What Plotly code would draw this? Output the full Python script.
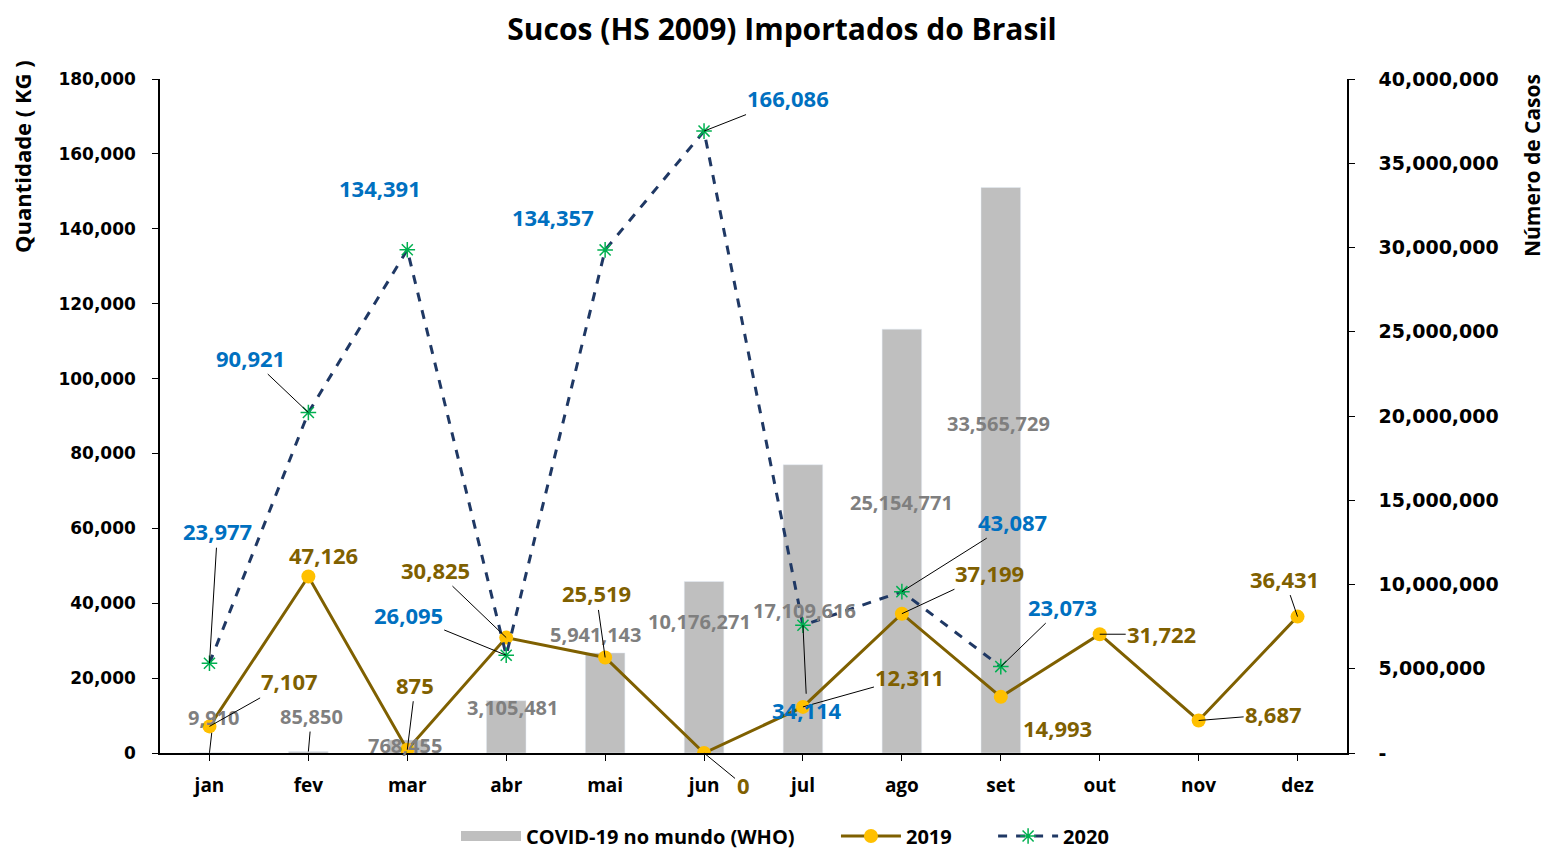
import plotly.graph_objects as go

months = ["jan", "fev", "mar", "abr", "mai", "jun", "jul", "ago", "set", "out", "nov", "dez"]
covid = [9910, 85850, 768455, 3105481, 5941143, 10176271, 17109616, 25154771, 33565729]
v2019 = [7107, 47126, 875, 30825, 25519, 0, 12311, 37199, 14993, 31722, 8687, 36431]
v2020 = [23977, 90921, 134391, 26095, 134357, 166086, 34114, 43087, 23073]

left_ticks = [0, 20000, 40000, 60000, 80000, 100000, 120000, 140000, 160000, 180000]
right_ticks = [0, 5000000, 10000000, 15000000, 20000000, 25000000, 30000000, 35000000, 40000000]

# label offsets (pixels, label centre relative to point) and whether a leader line is shown
off2020 = [(8, -132, 1), (-58, -55, 1), (-27, -62, 0), (-98, -40, 1), (-52, -33, 0),
           (84, -33, 1), (4, 85, 1), (111, -70, 1), (62, -60, 1)]
off2019 = [(80, -45, 1), (15, -22, 0), (8, -65, 1), (-71, -68, 1), (-9, -64, 1), (39, 32, 1),
           (107, -30, 1), (88, -41, 1), (57, 31, 0), (62, 0, 1), (75, -6, 1), (-13, -38, 1)]
offcov = [(4, -35, 1), (3, -35, 1), (-2, 5, 0), (6, 7, 0), (-10, -18, 0), (-5, 40, 0),
          (2, 146, 0), (0, 173, 0), (-2, 236, 0)]

C2019 = "#7F6000"
C2020 = "#0070C0"
CCOV = "#7F7F7F"
CBAR = "#BFBFBF"
LBL = "Open Sans"
TICK = "DejaVu Sans"
GAP = "\u00a0" * 7

fig = go.Figure()
fig.add_trace(go.Bar(x=months[:len(covid)], y=covid, name="COVID-19 no mundo (WHO)",
                     marker=dict(color=CBAR), width=0.4, yaxis="y", showlegend=False))
# legend proxy giving the wide grey rectangle used for the bar series
fig.add_trace(go.Scatter(x=[None], y=[None], name="<b>COVID-19 no mundo (WHO)</b>" + GAP, mode="lines",
                         line=dict(color=CBAR, width=16), yaxis="y"))
fig.add_trace(go.Scatter(x=months, y=v2019, name="<b>2019</b>" + GAP, mode="lines+markers", yaxis="y2",
                         line=dict(color=C2019, width=3),
                         marker=dict(color="#FFC000", size=14, symbol="circle")))
fig.add_trace(go.Scatter(x=months[:len(v2020)], y=v2020, name="<b>2020</b>", mode="lines+markers",
                         yaxis="y2", line=dict(color="#1F3864", width=3, dash="dash"),
                         marker=dict(color="#00B050", size=13, symbol="asterisk-open",
                                     line=dict(color="#00B050", width=1.5))))

ann = []


def add_labels(xs, ys, offs, color, yref, size):
    for x, y, (ax, ay, lead) in zip(xs, ys, offs):
        ann.append(dict(x=x, y=y, xref="x", yref=yref, text=f"<b>{y:,}</b>",
                        showarrow=True, ax=ax, ay=ay, arrowhead=0, standoff=0,
                        arrowwidth=1 if lead else 0.1,
                        arrowcolor="black" if lead else "rgba(0,0,0,0)",
                        font=dict(family=LBL, size=size, color=color)))


add_labels(months, covid, offcov, CCOV, "y", 20)
add_labels(months, v2019, off2019, C2019, "y2", 22)
add_labels(months, v2020, off2020, C2020, "y2", 22)

# page has an 8px body margin; figure is sized/offset to compensate
W, H, OFF = 1542, 841, 8
PW = 1187
ann.append(dict(text="<b>Quantidade ( KG )</b>", xref="paper", yref="paper",
                x=(22 - 160) / PW, y=(753 - 157) / 674, xanchor="center", yanchor="middle",
                textangle=-90, showarrow=False, font=dict(family=LBL, size=22, color="black")))
ann.append(dict(text="<b>Número de Casos</b>", xref="paper", yref="paper",
                x=(1532 - 160) / PW, y=(753 - 166) / 674, xanchor="center", yanchor="middle",
                textangle=-90, showarrow=False, font=dict(family=LBL, size=21, color="black")))

fig.update_layout(
    width=W, height=H,
    margin=dict(l=160 - OFF, r=203, t=79 - OFF, b=96, autoexpand=False),
    paper_bgcolor="white", plot_bgcolor="white",
    title=dict(text="<b>Sucos (HS 2009) Importados do Brasil</b>", x=(782 - OFF) / W, xanchor="center",
               y=1 - (29 - OFF) / H, yanchor="middle", font=dict(family=LBL, size=30, color="black")),
    xaxis=dict(type="category", categoryorder="array", categoryarray=months, range=[-0.5, 11.5],
               showline=True, linecolor="black", linewidth=1.5, ticks="outside", ticklen=6,
               tickcolor="black", showgrid=False, ticklabelstandoff=8,
               tickfont=dict(family=LBL, size=19, color="black"), tickprefix="<b>", ticksuffix="</b>"),
    yaxis=dict(side="right", range=[0, 40000000], tickvals=right_ticks,
               ticktext=["<b>-</b>"] + [f"<b>{v:,}</b>" for v in right_ticks[1:]],
               showline=True, linecolor="black", linewidth=1.5, ticks="outside", ticklen=6,
               tickcolor="black", showgrid=False, zeroline=False, ticklabelstandoff=20,
               tickfont=dict(family=TICK, size=19, color="black")),
    yaxis2=dict(side="left", overlaying="y", range=[0, 180000], tickvals=left_ticks,
                ticktext=[f"<b>{v:,}</b>" for v in left_ticks],
                showline=True, linecolor="black", linewidth=1.5, ticks="outside", ticklen=6,
                tickcolor="black", showgrid=False, zeroline=False, ticklabelstandoff=13,
                tickfont=dict(family=TICK, size=17, color="black")),
    legend=dict(orientation="h", x=(785 - 160) / PW, xanchor="center",
                yref="container", y=1 - (836 - OFF) / H, yanchor="middle",
                font=dict(family=LBL, size=20, color="black"), traceorder="normal",
                itemwidth=60),
    annotations=ann,
    showlegend=True,
)

fig.write_html("out.html")
